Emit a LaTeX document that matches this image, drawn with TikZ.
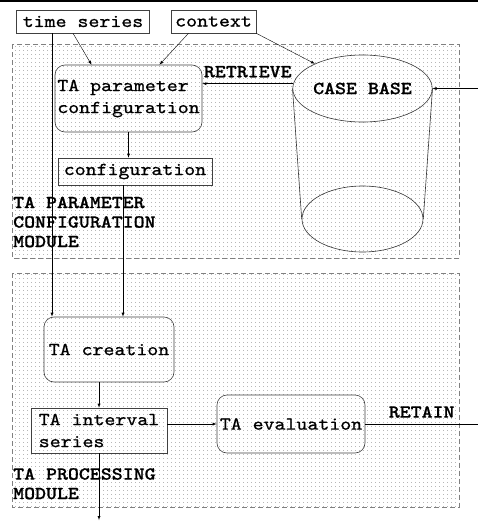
\documentclass[tikz,border=0pt]{standalone}
\usepackage{fontspec}
\setmonofont{lmmono10-regular.otf}[FakeStretch=1.14, FakeBold=0.8, BoldFont=lmmonolt10-bold.otf]
\usetikzlibrary{shapes.geometric,patterns.meta}

\tikzset{
  module/.style={draw=gray, dash pattern=on 5pt off 3pt, pattern={Dots[distance=4pt,radius=0.45pt]}, pattern color=gray},
  databox/.style={draw=black!75, line width=0.6pt, inner sep=0pt, align=left, font=\ttfamily\fontsize{18.3}{22}\selectfont},
  taskbox/.style={databox, rounded corners=10pt},
  caplabel/.style={font=\ttfamily\bfseries\fontsize{18.3}{19.5}\selectfont, inner sep=0pt, align=left},
}

\begin{document}
\begin{tikzpicture}[x=1pt, y=-1pt, >=latex]
\useasboundingbox (0,0) rectangle (478,522);
\draw[line width=2pt] (0,1) -- (478,1);

% the two modules
\draw[module] (12,44) rectangle (459,258);
\draw[module] (12,273) rectangle (459,507);
\node[caplabel, anchor=south west] (paramlabel) at (13,247.5) {TA PARAMETER\\CONFIGURATION\\MODULE};
\node[caplabel, anchor=south west] (proclabel) at (13,499.5) {TA PROCESSING\\MODULE};

% inputs
\node[databox, minimum width=133pt, minimum height=23pt] (tseries) at (83,21.5) {time series};
\node[databox, minimum width=85pt, minimum height=23pt] (context) at (213.5,21.5) {context};

% parameter configuration
\node[taskbox, minimum width=147pt, minimum height=67pt] (taparam) at (128.5,98.5) {TA parameter\\configuration};
\node[databox, minimum width=154pt, minimum height=27pt] (config) at (135,171.5) {configuration};

% case base
\node[ellipse, draw=black!80, line width=0.6pt, minimum width=121pt, minimum height=67pt, inner sep=0pt, caplabel] (casebase) at (362.5,88.5) {CASE BASE};
\node[ellipse, draw=black!80, line width=0.6pt, minimum width=121pt, minimum height=66pt, inner sep=0pt] (casebottom) at (362.5,219) {};
\draw[black!80, line width=0.6pt] (casebase.west) -- (casebottom.west) (casebase.east) -- (casebottom.east);

% processing
\node[taskbox, minimum width=130pt, minimum height=65pt] (tacreate) at (109,349.5) {TA creation};
\node[databox, minimum width=136pt, minimum height=45pt] (interval) at (99,430.5) {TA interval\\series};
\node[taskbox, minimum width=148pt, minimum height=58pt] (eval) at (291,424) {TA evaluation};

\coordinate (rightedge) at (478,0);
\coordinate (procout) at (100,520);

% connectors
\draw[->] ([xshift=-10pt]tseries.south) -- ([xshift=-37pt]taparam.north);
\draw[->] ([xshift=-25pt]context.south) -- ([xshift=31pt]taparam.north);
\draw[->] (context.south east) -- (casebase);
\draw[->] (casebase.176) -- (casebase.176 -| taparam.east) node[midway, above=6pt, caplabel] {RETRIEVE};
\draw[->] (rightedge |- casebase.east) -- (casebase.east);
\draw[->] (taparam.south) -- (taparam.south |- config.north);
\draw[->] ([xshift=-31pt]tseries.south) -- ([xshift=-31pt]tseries.south |- tacreate.north);
\draw[->] ([xshift=-12pt]config.south) -- ([xshift=-12pt]config.south |- tacreate.north);
\draw[->] (interval.north |- tacreate.south) -- (interval.north);
\draw[->] (eval.west -| interval.east) -- (eval.west);
\draw (eval.east) -- (eval.east -| rightedge) node[midway, above=6pt, caplabel] {RETAIN};
\draw[->] (interval.south) -- (interval.south |- procout);
\end{tikzpicture}
\end{document}
